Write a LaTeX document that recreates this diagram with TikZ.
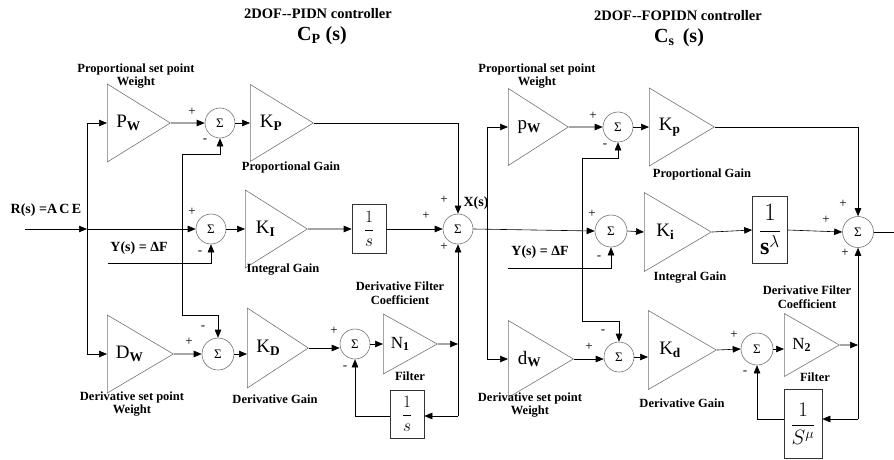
\documentclass[tikz,border=0pt]{standalone}
\usepackage{amsmath}
\usepackage{fontspec}
\setmainfont{Liberation Serif}
\usetikzlibrary{arrows.meta,positioning,calc,shapes.geometric}
\tikzset{
  gain/.style={isosceles triangle, isosceles triangle stretches, draw=black!55,
               semithick, inner sep=0pt, anchor=west, font=\fontsize{19}{19}\selectfont,
               minimum width=78pt, minimum height=63pt},
  sumb/.style={circle, draw=black!55, semithick, inner sep=0pt, minimum size=30pt,
               font=\fontsize{13}{13}\selectfont},
  tf/.style={rectangle, draw=black!80, semithick, inner sep=1pt,
             minimum width=34pt, minimum height=49pt},
  fl/.style={-{Triangle[length=8pt,width=6.5pt]}, semithick},
  lbl/.style={font=\bfseries\fontsize{12.5}{13.5}\selectfont, align=center, inner sep=0pt},
  sig/.style={font=\bfseries\fontsize{14}{14}\selectfont, inner sep=0pt},
  ttl/.style={font=\bfseries\fontsize{14.5}{15}\selectfont, inner sep=0pt},
  big/.style={font=\bfseries\fontsize{20}{20}\selectfont, inner sep=0pt},
  sgn/.style={font=\fontsize{13}{13}\selectfont, inner sep=0pt},
}

\begin{document}
\begin{tikzpicture}[x=1pt,y=-1pt]
\useasboundingbox (0,0) rectangle (894,460);
% titles
\node[ttl] (ttlP) at (318,14) {2DOF-{}-PIDN controller};
\node[big] (cP) at (322,36) {C\textsubscript{P} (s)};
\node[ttl] (ttlS) at (678,16) {2DOF-{}-FOPIDN controller};
\node[big] (cS) at (679,38) {C\textsubscript{s}\, (s)};

% 2DOF-PIDN
\coordinate (rin) at (25,229);
\coordinate (j1) at (87,229);
\node[gain] (PW) at (107,123) {P\textsubscript{\bfseries W}};
\node[gain, minimum height=66pt] (DW) at (107,354) {D\textsubscript{\bfseries W}};
\node[sumb] (sP) at (220,123) {Σ};
\node[gain, minimum width=77pt] (KP) at (250,123) {K\textsubscript{\bfseries P}};
\node[sumb] (sI) at (211,229) {Σ};
\node[gain, minimum height=62pt] (KI) at (245,229) {K\textsubscript{\bfseries I}};
\node[tf] (intg) at (369,229) {\fontsize{16}{16}\selectfont$\dfrac{1}{s}$};
\node[sumb] (sX) at (458,229) {Σ};
\node[sumb, minimum size=32pt] (sD) at (218,354) {Σ};
\node[gain, minimum width=80pt, minimum height=61pt] (KD) at (247,348) {K\textsubscript{\bfseries D}};
\node[sumb] (sF) at (355,344) {Σ};
\node[gain, minimum width=60pt, minimum height=54pt, font=\fontsize{17}{17}\selectfont] (N1) at (383,344) {N\textsubscript{\bfseries 1}};
\coordinate (j2) at (458,344);
\coordinate (j2b) at (458,416);
\node[tf, minimum height=48pt] (fb1) at (407,414) {\fontsize{16}{16}\selectfont$\dfrac{1}{s}$};
\coordinate (b1t) at (182,154);
\coordinate (b1b) at (182,315);
\coordinate (yin) at (108,263);

\node[sig] (rlbl) at (46,210) {R(s) =A\,C\,E};
\node[sig] (ylbl) at (139,248) {Y(s) = ΔF};
\node[sig] (xlbl) at (476,203) {X(s)};
\node[lbl] at (136,76) {Proportional set point\\Weight};
\node[lbl] at (291,167) {Proportional Gain};
\node[lbl] at (283,270) {Integral Gain};
\node[lbl] at (132,404) {Derivative set point\\Weight};
\node[lbl] at (275,399) {Derivative Gain};
\node[lbl] at (400,293) {Derivative Filter\\Coefficient};
\node[lbl] at (410,376) {Filter};

\draw[fl] (rin) -- (j1);
\draw[fl] (j1) -- (sI.west);
\draw[fl] (j1) |- (PW.west);
\draw[fl] (j1) |- (DW.west);
\draw[fl] (PW.apex) -- (sP.west);
\draw[fl] (sP.east) -- (KP.west);
\draw[fl] (b1t) -| (sP.south);
\draw[fl] (b1t) -- (b1b) -| (sD.north);
\draw[fl] (yin) -| (sI.south);
\draw[fl] (sI.east) -- (KI.west);
\draw[fl] (KI.apex) -- (intg.west);
\draw[fl] (intg.east) -- (sX.west);
\draw[fl] (KP.apex) -| (sX.north);
\draw[fl] (DW.apex) -- (sD.west);
\draw[fl] (sD.east) -- (sD.east -| KD.west);
\draw[fl] (KD.apex) -- (KD.apex -| sF.west);
\draw[fl] (sF.east) -- (N1.west);
\draw[fl] (N1.apex) -- (j2);
\draw[fl] (j2b) -- (sX.south);
\draw[fl] (j2b) -- (j2b -| fb1.east);
\draw[fl] (fb1.west |- j2b) -| (sF.south);
\node[sgn] at (192,112) {+};
\node[sgn] at (205,141) {-};
\node[sgn] at (192,212) {+};
\node[sgn] at (200,253) {-};
\node[sgn] at (444,200) {+};
\node[sgn] at (426,216) {+};
\node[sgn] at (444,247) {+};
\node[sgn] at (189,342) {+};
\node[sgn] at (203,328) {-};
\node[sgn] at (334,331) {+};
\node[sgn] at (345,368) {-};

% 2DOF-FOPIDN
\coordinate (j3) at (487,229);
\node[gain, minimum width=77pt, minimum height=60pt] (pW) at (508,127) {p\textsubscript{\bfseries W}};
\node[gain, minimum width=77pt, minimum height=65pt] (dW) at (508,359) {d\textsubscript{\bfseries W}};
\node[sumb] (sP2) at (618,127) {Σ};
\node[gain, minimum height=65pt] (Kp2) at (649,127) {K\textsubscript{\bfseries p}};
\node[sumb, minimum size=32pt] (sI2) at (611,231) {Σ};
\node[gain, minimum width=79pt, minimum height=67pt] (Ki2) at (644,232) {K\textsubscript{\bfseries i}};
\node[tf, minimum width=35pt, minimum height=67pt] (fint) at (770,230) {\fontsize{24}{24}\selectfont$\dfrac{1}{\mathbf{s}^{\lambda}}$};
\node[sumb, minimum size=31pt] (sX2) at (858,232) {Σ};
\coordinate (yout) at (894,232);
\node[sumb] (sD2) at (619,357) {Σ};
\node[gain, minimum width=79pt, minimum height=68pt] (Kd2) at (648,350) {K\textsubscript{\bfseries d}};
\node[sumb, minimum size=32pt] (sF2) at (757,349) {Σ};
\node[gain, minimum width=63pt, minimum height=55pt, font=\fontsize{17}{17}\selectfont] (N2) at (784,345) {N\textsubscript{\bfseries 2}};
\coordinate (j4) at (858,345);
\coordinate (j4b) at (858,419);
\node[tf, minimum width=38pt, minimum height=69pt] (fb2) at (803,424) {\fontsize{20}{20}\selectfont$\dfrac{1}{S^{\mu}}$};
\coordinate (b3t) at (582,158);
\coordinate (b3b) at (582,321);
\coordinate (yin2) at (508,268);

\node[sig] (ylbl2) at (540,252) {Y(s) = ΔF};
\node[lbl] at (537,76) {Proportional set point\\Weight};
\node[lbl] at (702,174) {Proportional Gain};
\node[lbl] at (690,278) {Integral Gain};
\node[lbl] at (530,405) {Derivative set point\\Weight};
\node[lbl] at (682,403) {Derivative Gain};
\node[lbl] at (807,297) {Derivative Filter\\Coefficient};
\node[lbl] at (815,377) {Filter};

\draw[fl] (sX.east) -- (sI2.west);
\draw[fl] (j3) |- (pW.west);
\draw[fl] (j3) |- (dW.west);
\draw[fl] (pW.apex) -- (sP2.west);
\draw[fl] (sP2.east) -- (Kp2.west);
\draw[fl] (b3t) -| (sP2.south);
\draw[fl] (b3t) -- (b3b) -| (sD2.north);
\draw[fl] (yin2) -| (sI2.south);
\draw[fl] (sI2.east) -- (Ki2.west);
\draw[fl] (Ki2.apex) -- (fint.west);
\draw[fl] (fint.east) -- (sX2.west);
\draw[fl] (Kp2.apex) -| (sX2.north);
\draw (sX2.east) -- (yout);
\draw[fl] (dW.apex) -- (dW.apex -| sD2.west);
\draw[fl] (sD2.east) -- (sD2.east -| Kd2.west);
\draw[fl] (Kd2.apex) -- (sF2.west);
\draw[fl] (sF2.east) -- (sF2.east -| N2.west);
\draw[fl] (N2.apex) -- (j4);
\draw[fl] (j4b) -- (sX2.south);
\draw[fl] (j4b) -- (j4b -| fb2.east);
\draw[fl] (fb2.west |- j4b) -| (sF2.south);
\node[sgn] at (593,116) {+};
\node[sgn] at (605,146) {-};
\node[sgn] at (592,214) {+};
\node[sgn] at (599,258) {-};
\node[sgn] at (843,204) {+};
\node[sgn] at (826,220) {+};
\node[sgn] at (845,253) {+};
\node[sgn] at (589,347) {+};
\node[sgn] at (603,332) {-};
\node[sgn] at (734,335) {+};
\node[sgn] at (745,373) {-};
\end{tikzpicture}
\end{document}
